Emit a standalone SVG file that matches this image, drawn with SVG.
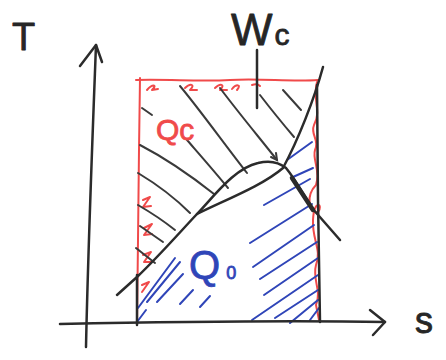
<svg xmlns="http://www.w3.org/2000/svg" width="446" height="360" viewBox="0 0 446 360">
<style>
.k{fill:none;stroke:#2b2b2b;stroke-width:2.5;stroke-linecap:round;stroke-linejoin:round}
.h{fill:none;stroke:#3a3a3a;stroke-width:2;stroke-linecap:round}
.r{fill:none;stroke:#f04a4a;stroke-width:2;stroke-linecap:round;stroke-linejoin:round}
.b{fill:none;stroke:#2f45b8;stroke-width:2;stroke-linecap:round}
.t{font-family:"Liberation Sans",Arial,sans-serif;stroke-width:0.8;stroke-linejoin:round}
</style>
<rect width="446" height="360" fill="#ffffff"/>
<g id="red-area">
<path class="r" d="M140,78 L139,150 L138,240 L137,325"/>
<path class="r" d="M136,80 C170,79 200,82 230,80 C260,78 290,82 318,80"/>
<path class="r" d="M147,90 C152,84 158,84 152,90 L158,89 M185,88 C190,83 196,84 190,90 L197,90 M215,88 C220,83 226,84 220,90 L227,90 M232,89 C236,84 242,84 237,90 M252,85 C255,84 258,84 260,86"/>
<path class="r" d="M317,82 C312,100 322,110 314,125 C310,135 320,140 315,150 C312,160 321,170 316,185 C306,195 308,215 318,212 C324,205 314,198 313,220 C312,240 322,250 316,265 C312,280 322,290 316,305 L319,320"/>
<path class="r" d="M143,200 L150,197 L143,207 L151,206 M144,228 L152,224 L144,235 L152,234 M143,255 L151,252 L144,262 L151,262 M142,285 L149,282 L142,292"/>
</g>
<g id="hatch-qc">
<path class="h" d="M142,108 L152,115"/>
<path class="h" d="M140,145 C165,158 190,175 214,194"/>
<path class="h" d="M138,173 C158,185 175,198 190,213"/>
<path class="h" d="M138,205 C150,212 165,222 175,230"/>
<path class="h" d="M140,226 L163,242"/>
<path class="h" d="M136,248 L155,263"/>
<path class="h" d="M187,140 C200,155 215,172 228,188"/>
<path class="h" d="M180,86 C200,110 225,145 247,173"/>
<path class="h" d="M220,88 C238,112 258,136 277,160"/>
<path class="h" d="M271,157 L277,160 L276,153"/>
<path class="h" d="M260,95 C270,108 283,124 294,137"/>
<path class="h" d="M283,90 L301,110"/>
</g>
<g id="hatch-q0">
<path class="b" d="M287,160 L312,142"/>
<path class="b" d="M293,177 L313,168"/>
<path class="b" d="M264,205 L310,179"/>
<path class="b" d="M250,243 L312,204"/>
<path class="b" d="M253,267 L314,225"/>
<path class="b" d="M260,279 L317,242"/>
<path class="b" d="M264,295 L318,258"/>
<path class="b" d="M252,320 L318,275"/>
<path class="b" d="M275,318 L318,290"/>
<path class="b" d="M290,323 L318,300"/>
<path class="b" d="M310,320 L319,308"/>
<path class="b" d="M138,308 L175,258"/>
<path class="b" d="M147,302 L180,262"/>
<path class="b" d="M157,302 L183,274"/>
<path class="b" d="M180,304 L193,290"/>
<path class="b" d="M200,307 L210,296"/>
<path class="b" d="M137,322 L146,310"/>
</g>
<g id="cycle">
<path class="k" d="M117,295 L137,277 C160,255 180,232 197,214 C215,195 235,168 258,163 C270,160 280,163 286,168 C296,180 304,196 312,208 L340,240"/>
<path class="k" d="M197,214 C225,200 262,186 283,168 C298,140 314,100 323,67"/>
<path class="k" style="stroke-width:4.5" d="M292,178 L313,210"/>
<path class="k" d="M137,275 L137,325"/>
<path class="k" d="M317,85 L318,200 L320,322"/>
<path class="k" d="M257,50 L257,108"/>
</g>
<g id="axes">
<path class="k" d="M86,347 C88,250 92,150 96,45"/>
<path class="k" d="M80,66 L96,45 L102,62"/>
<path class="k" d="M60,324 C160,322 280,320 385,322"/>
<path class="k" d="M370,310 L385,322 L373,335"/>
</g>
<g id="labels">
<text class="t" x="12" y="50" font-size="38" fill="#262626" stroke="#262626">T</text>
<text class="t" x="231" y="45" font-size="44" fill="#262626" stroke="#262626">W<tspan font-size="30" dx="2">c</tspan></text>
<text class="t" x="156" y="140" font-size="30" fill="#f04a4a" stroke="#f04a4a">Qc</text>
<text class="t" x="189" y="279" font-size="40" fill="#2f45b8" stroke="#2f45b8">Q<tspan font-size="18" dx="6">0</tspan></text>
<text class="t" x="415" y="333" font-size="36" fill="#262626" stroke="#262626">s</text>
</g>
</svg>
